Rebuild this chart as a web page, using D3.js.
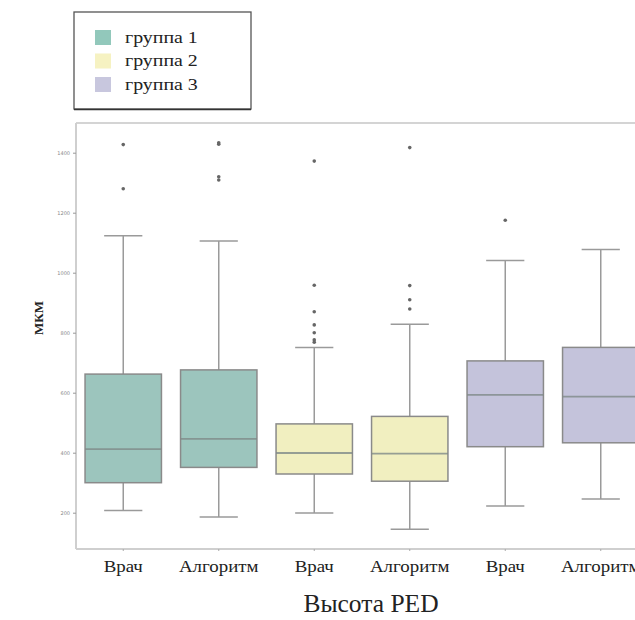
<!DOCTYPE html>
<html>
<head>
<meta charset="utf-8">
<script src="https://cdn.jsdelivr.net/npm/d3@7"></script>
<style>
  body { margin: 0; background: #fff; }
  svg { display: block; }
</style>
</head>
<body>
<svg id="chart" width="635" height="620"></svg>
<script>
// categories along x
const labels = ["Врач", "Алгоритм", "Врач", "Алгоритм", "Врач", "Алгоритм"];
const groups = ["группа 1", "группа 1", "группа 2", "группа 2", "группа 3", "группа 3"];
const groupNames = ["группа 1", "группа 2", "группа 3"];
const groupColors = ["#9cc5bd", "#f1efc0", "#c4c3db"];
const legendColors = ["#92c8bb", "#f6f2c2", "#c8c7de"];

// box stats
const lowWhisker = [207, 186, 199, 145, 222, 246];
const q1 = [300, 351, 329, 305, 420, 433];
const median = [412, 446, 399, 397, 593, 587];
const q3 = [662, 676, 496, 521, 706, 751];
const highWhisker = [1123, 1106, 751, 828, 1041, 1077];
const outliers = [
  [1427, 1280],
  [1433, 1428, 1320, 1309],
  [1372, 958, 870, 826, 800, 776, 768],
  [1417, 957, 910, 879],
  [1175],
  []
];
const yTicks = [200, 400, 600, 800, 1000, 1200, 1400];

const svg = d3.select("#chart");
const plotTop = 123, plotBottom = 549, plotLeft = 76;

const x = d3.scaleBand()
    .domain(d3.range(labels.length))
    .range([75.5, 648.5]);

const y = d3.scaleLinear()
    .domain([200, 1400])
    .range([512.7, 152.7]);

const color = d3.scaleOrdinal(groupNames, groupColors);

// frame
svg.append("line")
    .attr("x1", plotLeft).attr("x2", 635)
    .attr("y1", plotTop).attr("y2", plotTop)
    .attr("stroke", "#d4d4d4").attr("stroke-width", 2);
svg.append("line")
    .attr("x1", plotLeft).attr("x2", plotLeft)
    .attr("y1", plotTop).attr("y2", plotBottom)
    .attr("stroke", "#cfcfcf").attr("stroke-width", 2);
svg.append("line")
    .attr("x1", plotLeft).attr("x2", 635)
    .attr("y1", plotBottom).attr("y2", plotBottom)
    .attr("stroke", "#cfcfcf").attr("stroke-width", 2);

// y axis
const yAxis = svg.append("g")
    .attr("transform", `translate(${plotLeft},0)`)
    .call(d3.axisLeft(y).tickValues(yTicks).tickFormat(d3.format("d")).tickSize(3).tickPadding(3));
yAxis.select(".domain").remove();
yAxis.selectAll("line").attr("stroke", "#999");
yAxis.selectAll("text")
    .attr("fill", "#888")
    .style("font-family", "'DejaVu Sans', sans-serif")
    .style("font-size", "5px");

// x axis
const xAxis = svg.append("g")
    .attr("transform", `translate(0,${plotBottom})`)
    .call(d3.axisBottom(x).tickFormat(i => labels[i]).tickSize(2).tickPadding(10));
xAxis.select(".domain").remove();
xAxis.selectAll("line").attr("stroke", "#aaa");
xAxis.selectAll("text")
    .attr("fill", "#222")
    .attr("y", 0).attr("dy", 0)
    .attr("transform", "translate(0,23) scale(1.08,1)")
    .style("font-family", "'Liberation Serif', serif")
    .style("font-size", "17.5px");

const bw = x.bandwidth() * 0.8;

const box = svg.append("g")
    .selectAll("g")
    .data(labels.map((d, i) => i))
    .join("g")
    .attr("transform", i => `translate(${x(i) + x.bandwidth() / 2},0)`);

// whiskers
box.append("line")
    .attr("x1", 0).attr("x2", 0)
    .attr("y1", i => y(highWhisker[i])).attr("y2", i => y(q3[i]))
    .attr("stroke", "#9a9a9a").attr("stroke-width", 1.5);
box.append("line")
    .attr("x1", 0).attr("x2", 0)
    .attr("y1", i => y(q1[i])).attr("y2", i => y(lowWhisker[i]))
    .attr("stroke", "#9a9a9a").attr("stroke-width", 1.5);
box.append("line")
    .attr("x1", -bw / 4).attr("x2", bw / 4)
    .attr("y1", i => y(highWhisker[i])).attr("y2", i => y(highWhisker[i]))
    .attr("stroke", "#9a9a9a").attr("stroke-width", 1.5);
box.append("line")
    .attr("x1", -bw / 4).attr("x2", bw / 4)
    .attr("y1", i => y(lowWhisker[i])).attr("y2", i => y(lowWhisker[i]))
    .attr("stroke", "#9a9a9a").attr("stroke-width", 1.5);

// boxes
box.append("rect")
    .attr("x", -bw / 2)
    .attr("width", bw)
    .attr("y", i => y(q3[i]))
    .attr("height", i => y(q1[i]) - y(q3[i]))
    .attr("fill", i => color(groups[i]))
    .attr("stroke", "#8a8a8a")
    .attr("stroke-width", 1.5);

box.append("line")
    .attr("x1", -bw / 2).attr("x2", bw / 2)
    .attr("y1", i => y(median[i])).attr("y2", i => y(median[i]))
    .attr("stroke", "#7f8a88").attr("stroke-width", 1.8)
    .attr("stroke-opacity", 0.8);

// outliers
box.selectAll("circle")
    .data(i => outliers[i])
    .join("circle")
    .attr("cx", 0)
    .attr("cy", d => y(d))
    .attr("r", 1.8)
    .attr("fill", "#666");

// axis titles
svg.append("text")
    .attr("x", 371).attr("y", 612)
    .attr("text-anchor", "middle")
    .style("font-family", "'Liberation Serif', serif")
    .style("font-size", "25.5px")
    .attr("fill", "#222")
    .text("Высота PED");

svg.append("text")
    .attr("transform", "translate(43,318) rotate(-90)")
    .attr("text-anchor", "middle")
    .style("font-family", "'Liberation Serif', serif")
    .style("font-size", "13px")
    .style("font-weight", "bold")
    .attr("fill", "#222")
    .text("МКМ");

// legend
const legend = svg.append("g");
legend.append("rect")
    .attr("x", 74).attr("y", 12)
    .attr("width", 177).attr("height", 97)
    .attr("fill", "#fff")
    .attr("stroke", "#555")
    .attr("stroke-width", 1.3);
legend.append("line")
    .attr("x1", 74).attr("x2", 251)
    .attr("y1", 109.5).attr("y2", 109.5)
    .attr("stroke", "#333").attr("stroke-width", 1.5);

const item = legend.selectAll("g")
    .data(groupNames)
    .join("g")
    .attr("transform", (d, i) => `translate(95,${37.5 + i * 23.5})`);
item.append("rect")
    .attr("x", 0).attr("y", -7.5)
    .attr("width", 16).attr("height", 15)
    .attr("fill", (d, i) => legendColors[i]);
item.append("text")
    .attr("transform", "translate(30,5) scale(1.17,1)")
    .style("font-family", "'Liberation Serif', serif")
    .style("font-size", "17px")
    .attr("fill", "#222")
    .text(d => d);
</script>
</body>
</html>
